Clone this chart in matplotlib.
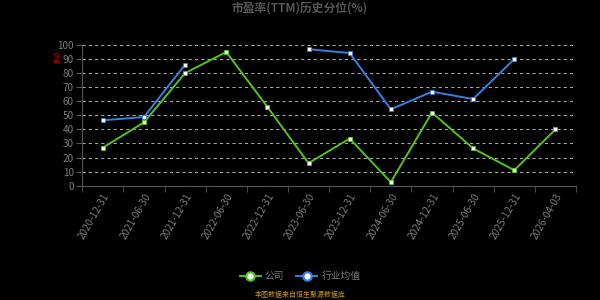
import matplotlib
matplotlib.use('Agg')
import matplotlib.pyplot as plt
import numpy as np

plt.rcParams['font.family'] = ['Noto Sans CJK SC', 'DejaVu Sans']

dates = ['2020-12-31', '2021-06-30', '2021-12-31', '2022-06-30', '2022-12-31', '2023-06-30',
         '2023-12-31', '2024-06-30', '2024-12-31', '2025-06-30', '2025-12-31', '2026-04-03']
company = [27, 45, 80, 95, 56, 16, 33.5, 2.5, 52, 26.5, 11, 40]
industry = [46.5, 48.8, 86, np.nan, np.nan, 97, 94.3, 54.3, 66.8, 61.6, 90, np.nan]

green = '#52c41a'
blue = '#3a7ee0'
grey = '#7a7a7a'

fig = plt.figure(figsize=(6, 3), dpi=100, facecolor='black')
ax = fig.add_axes([0.137, 0.381, 0.823, 0.469], facecolor='black')

x = np.arange(len(dates))
ax.plot(x, company, color=green, lw=1.4, marker='s', ms=2.6, mfc='white', mec=green, mew=0.6, label='公司', zorder=3)
ax.plot(x, industry, color=blue, lw=1.4, marker='s', ms=2.6, mfc='white', mec=blue, mew=0.6, label='行业均值', zorder=3)

ax.set_xlim(-0.5, len(dates) - 0.5)
ax.set_ylim(0, 100)
ax.set_yticks(range(0, 101, 10))
ax.yaxis.grid(True, color='#a8a8a8', ls=(0, (3, 3)), lw=0.75)
ax.set_axisbelow(True)

ax.set_xticks(x)
ax.set_xticklabels(dates, rotation=60, ha='right', rotation_mode='anchor')
ax.set_xticks(np.arange(-0.5, len(dates), 1), minor=True)
ax.tick_params(axis='x', which='major', length=0, colors=grey, labelsize=7.2, pad=4)
ax.tick_params(axis='x', which='minor', length=4, color='#555555')
ax.tick_params(axis='y', length=4, color='#555555', colors=grey, labelsize=7.2, pad=2)

for s in ['top', 'right']:
    ax.spines[s].set_visible(False)
ax.spines['left'].set_color('#555555')
ax.spines['bottom'].set_color('#555555')

fig.text(0.5, 0.972, '市盈率(TTM)历史分位(%)', ha='center', va='center', color='#555555',
         fontsize=8.5, fontweight='bold')
fig.text(0.097, 0.81, '(%)', ha='center', va='center', color='#cc0000', fontsize=5,
         rotation=90, fontweight='bold')

leg = fig.legend(loc='center', bbox_to_anchor=(0.5, 0.08), ncol=2, frameon=False,
                 fontsize=7, labelcolor='#777777', handlelength=2.2, columnspacing=1.2,
                 handletextpad=0.4)
for h in leg.legend_handles:
    h.set_marker('o')
    h.set_markersize(6)
    h.set_markeredgewidth(1.6)

fig.text(0.5, 0.018, '本图数据来自恒生聚源数据库', ha='center', va='center', color='#c8961e', fontsize=5)

fig.savefig('out.png', dpi=100, facecolor='black')
